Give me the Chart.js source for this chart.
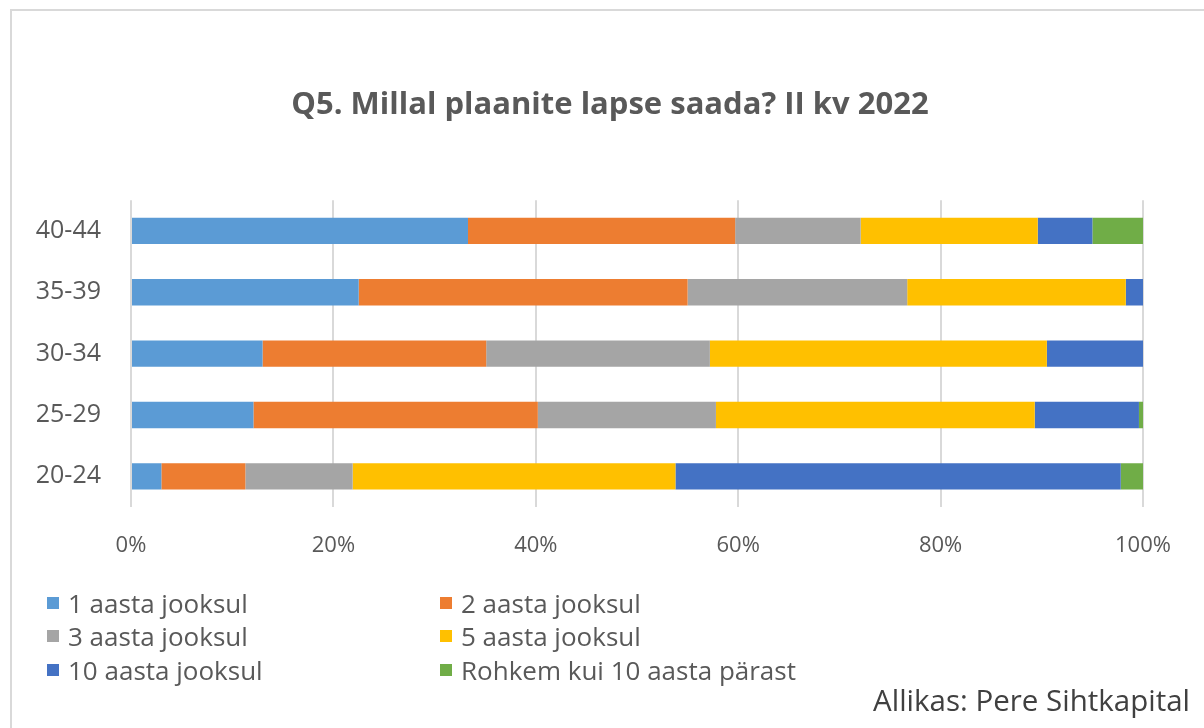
<!DOCTYPE html>
<html>
<head>
<meta charset="utf-8">
<script src="https://cdn.jsdelivr.net/npm/chart.js"></script>
<style>
    body { margin: 0; background: #fff; font-family: "Open Sans", sans-serif; }
    #wrap { position: relative; width: 1204px; height: 728px; overflow: hidden; }
    #frame { position: absolute; left: 10px; top: 9px; width: 1240px; height: 760px; border: 2px solid #d9d9d9; box-sizing: border-box; }
    #chart { position: absolute; left: 0; top: 0; }
    #legend { position: absolute; left: 47px; top: 586px; display: grid; grid-template-columns: 393px 400px; row-gap: 0; }
    .item { height: 33.5px; display: flex; align-items: center; font-size: 26px; color: #595959; }
    .box { width: 12px; height: 12px; margin-right: 9px; }
    #source { position: absolute; right: 14px; top: 680px; font-size: 29.5px; line-height: 40px; color: #404040; }
</style>
</head>
<body>
<div id="wrap">
    <div id="frame"></div>
    <canvas id="chart" width="1204" height="728"></canvas>
    <div id="legend"></div>
    <div id="source">Allikas: Pere Sihtkapital</div>
</div>
<script>
// vanuserühmad (ülevalt alla)
var ageGroups = ['40-44', '35-39', '30-34', '25-29', '20-24'];

// osakaalud protsentides
var within1 = [33.3, 22.5, 13.0, 12.1, 3.0];
var within2 = [26.4, 32.5, 22.1, 28.1, 8.3];
var within3 = [12.4, 21.7, 22.1, 17.6, 10.6];
var within5 = [17.5, 21.6, 33.3, 31.5, 31.9];
var within10 = [5.4, 1.7, 9.5, 10.3, 44.0];
var over10 = [5.0, 0, 0, 0.4, 2.2];

var seriesNames = ['1 aasta jooksul', '2 aasta jooksul', '3 aasta jooksul', '5 aasta jooksul', '10 aasta jooksul', 'Rohkem kui 10 aasta pärast'];
var xTicks = [0, 20, 40, 60, 80, 100];

var colors = ['#5b9bd5', '#ed7d31', '#a5a5a5', '#ffc000', '#4472c4', '#70ad47'];
var values = [within1, within2, within3, within5, within10, over10];

var datasets = values.map(function(v, i) {
    return {
        label: seriesNames[i],
        data: v,
        backgroundColor: colors[i],
        borderWidth: 0,
        barPercentage: 0.43,
        categoryPercentage: 1
    };
});

// pealkiri keskele üle kogu pildi
var titleCenter = {
    id: 'titleCenter',
    afterLayout: function(chart) {
        if (chart.titleBlock) {
            chart.titleBlock.left = 16;
            chart.titleBlock.right = 1204;
            chart.titleBlock.width = 1188;
        }
    }
};

var ctx = document.getElementById('chart').getContext('2d');
var chart = new Chart(ctx, {
    type: 'bar',
    data: {
        labels: ageGroups,
        datasets: datasets
    },
    plugins: [titleCenter],
    options: {
        indexAxis: 'y',
        responsive: false,
        animation: false,
        layout: {
            padding: { left: 0, right: 61, top: 0, bottom: 161 }
        },
        plugins: {
            legend: { display: false },
            tooltip: { enabled: false },
            title: {
                display: true,
                text: 'Q5. Millal plaanite lapse saada? II kv 2022',
                color: '#595959',
                font: { family: 'Open Sans', size: 31, weight: 'bold' },
                padding: { top: 87, bottom: 76 }
            }
        },
        scales: {
            x: {
                stacked: true,
                min: 0,
                max: 100,
                afterFit: function(scale) { scale.height = 60; },
                afterBuildTicks: function(scale) {
                    scale.ticks = xTicks.map(function(t) { return { value: t }; });
                },
                ticks: {
                    color: '#595959',
                    font: { family: 'Open Sans', size: 22 },
                    padding: 26,
                    callback: function(v) { return v + '%'; }
                },
                grid: { color: '#d9d9d9', lineWidth: 2, drawTicks: false },
                border: { display: false }
            },
            y: {
                stacked: true,
                afterFit: function(scale) { scale.width = 131; },
                ticks: {
                    color: '#595959',
                    font: { family: 'Open Sans', size: 25 },
                    padding: 30
                },
                grid: { display: false, drawTicks: false },
                border: { display: false }
            }
        }
    }
});

// legend kahes veerus
var legend = document.getElementById('legend');
chart.data.datasets.forEach(function(ds) {
    var item = document.createElement('div');
    item.className = 'item';
    var box = document.createElement('span');
    box.className = 'box';
    box.style.background = ds.backgroundColor;
    item.appendChild(box);
    item.appendChild(document.createTextNode(ds.label));
    legend.appendChild(item);
});
</script>
</body>
</html>
